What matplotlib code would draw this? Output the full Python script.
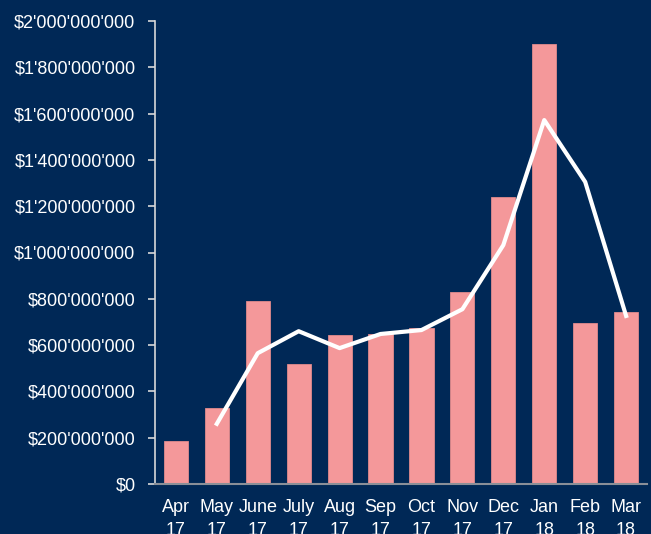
import matplotlib
matplotlib.use("Agg")
import matplotlib.pyplot as plt
from matplotlib.ticker import FuncFormatter

months = ["Apr\n17", "May\n17", "June\n17", "July\n17", "Aug\n17", "Sep\n17",
          "Oct\n17", "Nov\n17", "Dec\n17", "Jan\n18", "Feb\n18", "Mar\n18"]
bar_values = [185e6, 330e6, 790e6, 520e6, 645e6, 650e6,
              672e6, 828e6, 1240e6, 1900e6, 695e6, 745e6]
line_values = [None, 260e6, 565e6, 660e6, 587e6, 648e6,
               665e6, 755e6, 1032e6, 1572e6, 1305e6, 726e6]
y_ticks = [0, 200e6, 400e6, 600e6, 800e6, 1000e6, 1200e6, 1400e6, 1600e6, 1800e6, 2000e6]

BG = "#002856"
BAR = "#F4989A"

plt.rcParams['font.family'] = ['Liberation Sans', 'DejaVu Sans']

fig = plt.figure(figsize=(6.51, 5.34), dpi=100, facecolor=BG)
ax = fig.add_axes([155/651, 1-484/534, (647-155)/651, (484-21)/534])
ax.set_facecolor(BG)

x = list(range(len(months)))
ax.bar(x, bar_values, width=0.59, color=BAR, edgecolor="#E08A8C", linewidth=0.6, zorder=2)
lx = [i for i, v in zip(x, line_values) if v is not None]
ly = [v for v in line_values if v is not None]
ax.plot(lx, ly, color="white", linewidth=3, zorder=3)

ax.set_xlim(-0.51, len(months) - 0.49)
ax.set_ylim(0, 2000e6)
ax.set_yticks(y_ticks)

def fmt(v, pos):
    s = f"{int(round(v)):,}".replace(",", "'")
    return "$" + s
ax.yaxis.set_major_formatter(FuncFormatter(fmt))
ax.set_xticks(x)
ax.set_xticklabels(months, linespacing=1.45)

for s in ["top", "right"]:
    ax.spines[s].set_visible(False)
ax.spines["left"].set_color("#D8D8D8")
ax.spines["left"].set_linewidth(1.2)
ax.spines["bottom"].set_color("#8A8F98")
ax.spines["bottom"].set_linewidth(1.5)

ax.tick_params(axis="y", colors="#D8D8D8", labelcolor="white", labelsize=13, length=5, width=1.2, pad=9)
ax.tick_params(axis="x", length=0, labelcolor="white", labelsize=13, pad=11)

fig.savefig("out.png", dpi=100, facecolor=BG)
